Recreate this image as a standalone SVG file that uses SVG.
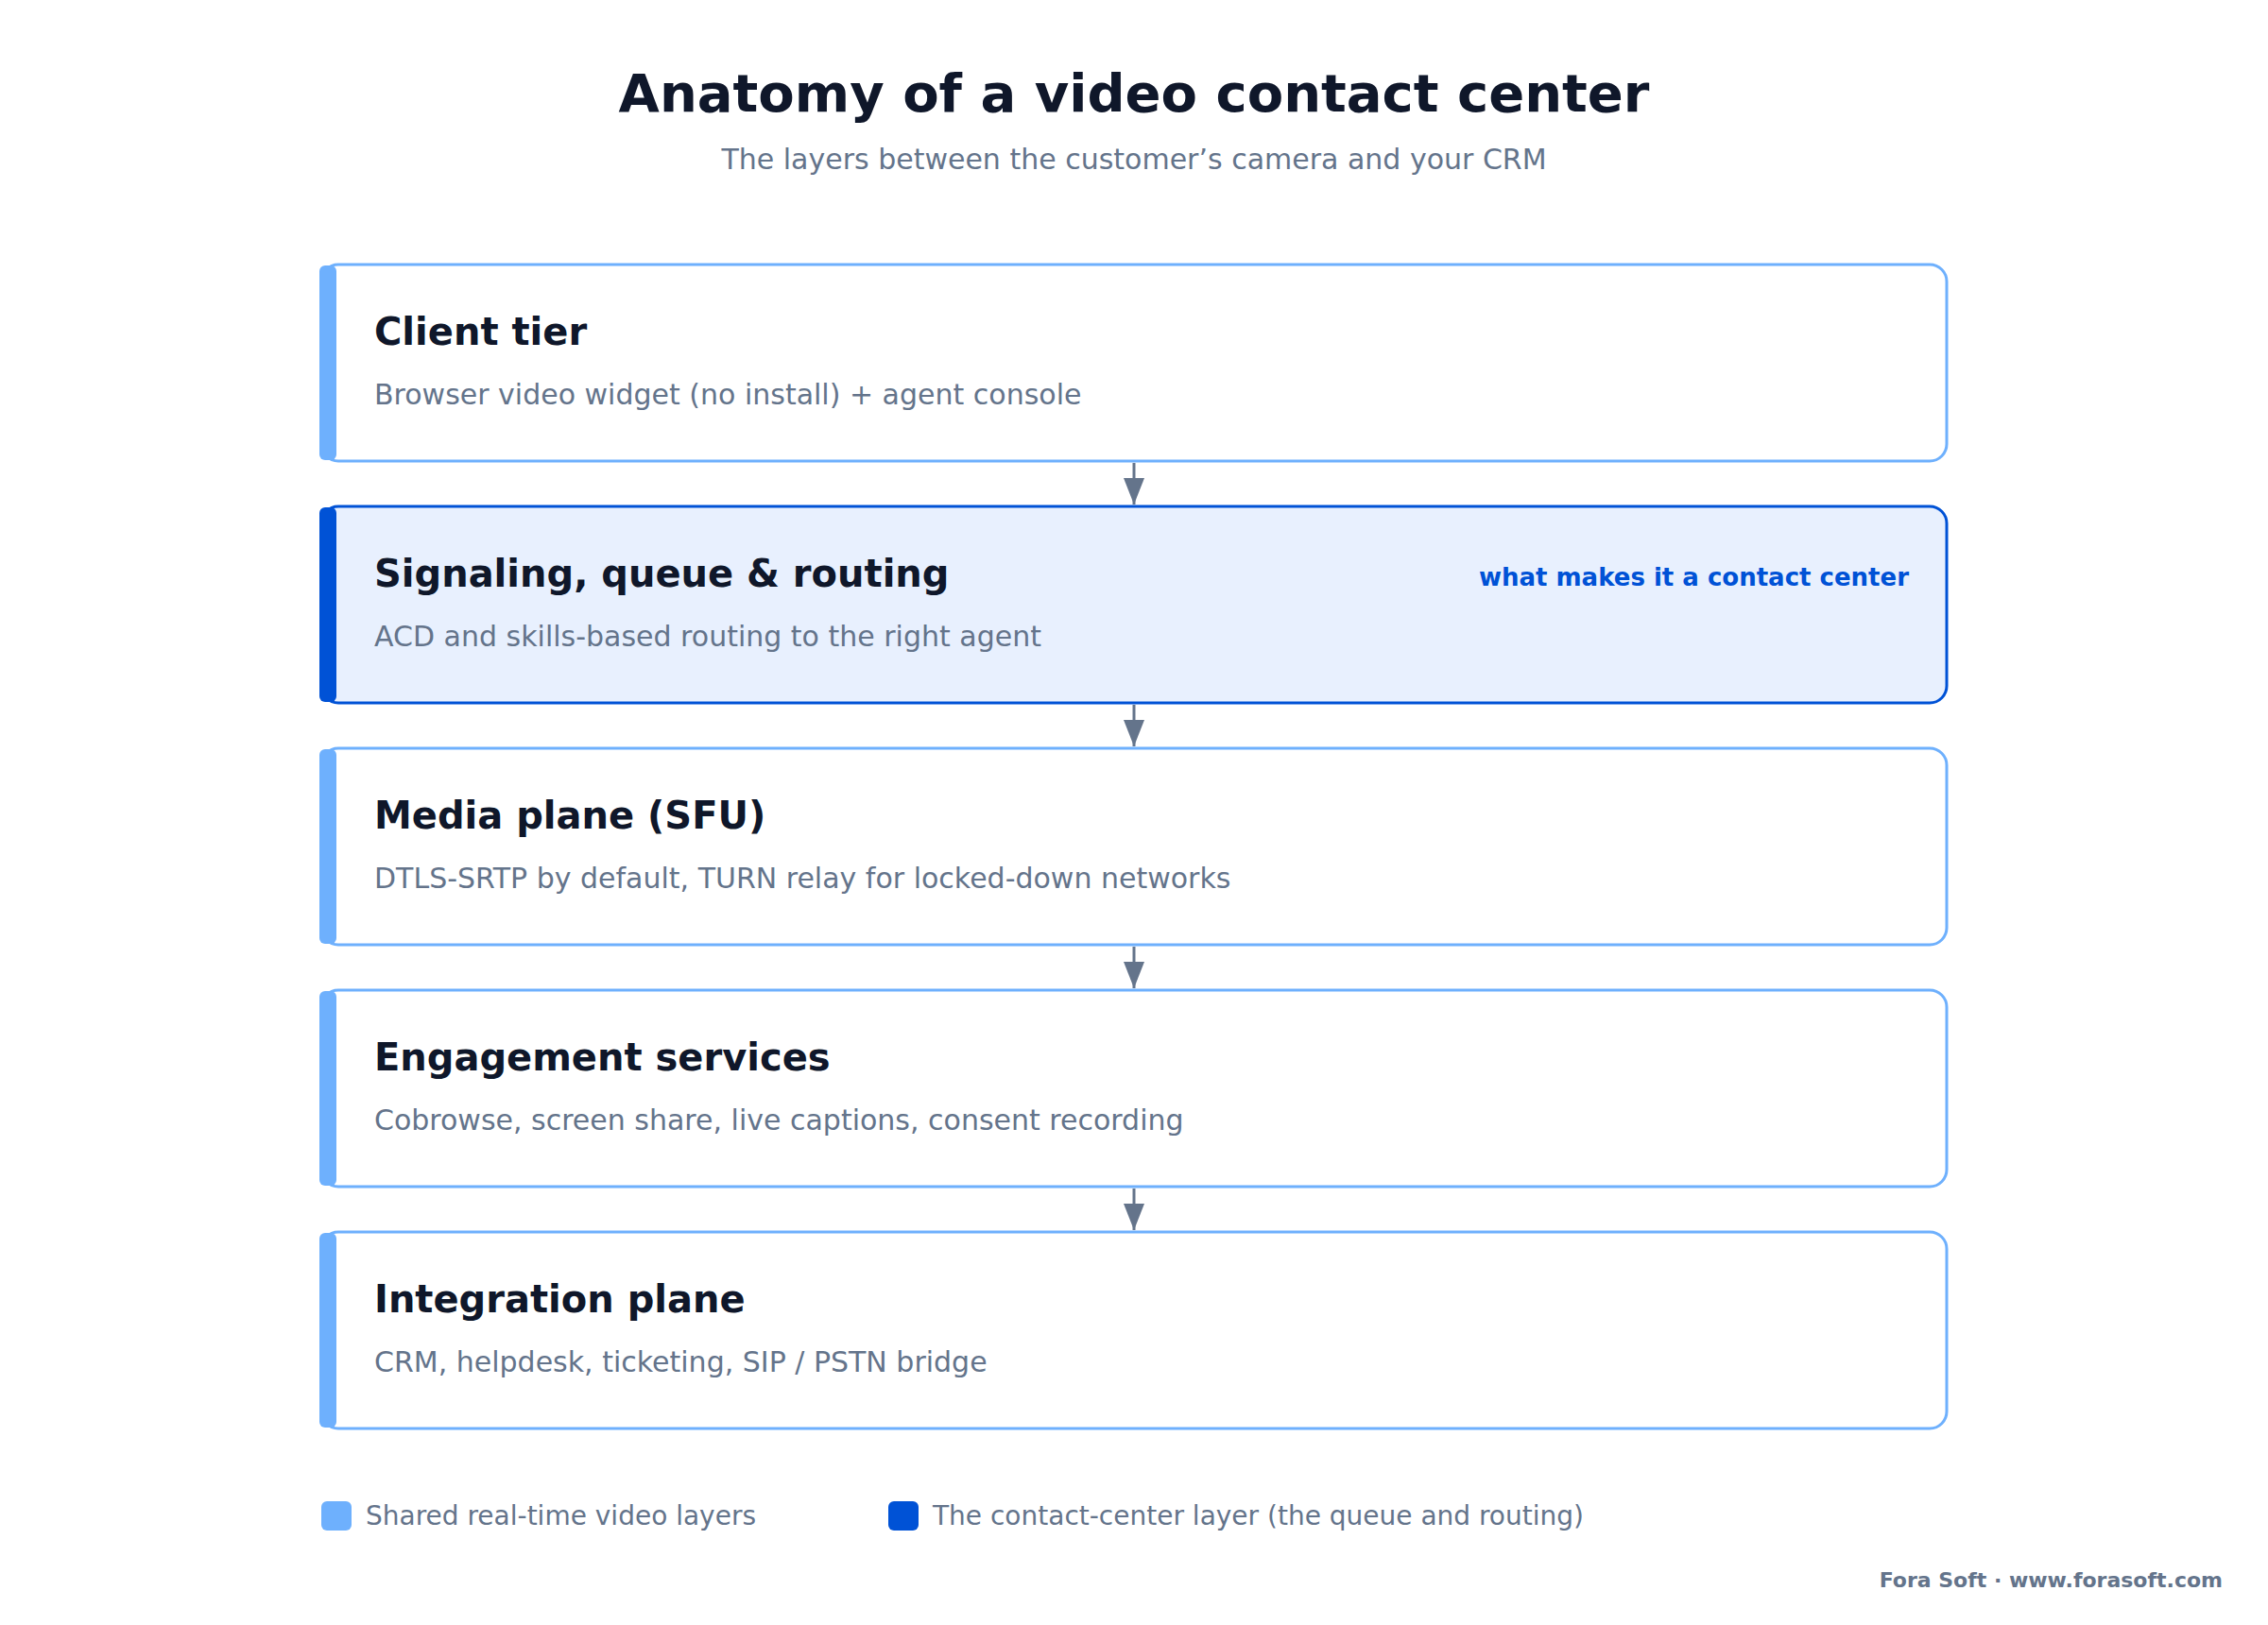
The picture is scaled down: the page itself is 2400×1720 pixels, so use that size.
<svg xmlns="http://www.w3.org/2000/svg" width="2400" height="1720" viewBox="0 0 2400 1720">
<defs>
<style>
text{font-family:"DejaVu Sans","Noto Sans",sans-serif}
.title{font-size:56px;font-weight:bold;fill:#0f172a}
.sub{font-size:30px;fill:#64748b}
.hd{font-size:40px;font-weight:bold;fill:#0f172a}
.ds{font-size:30px;fill:#64748b}
.box{fill:#ffffff;stroke:#6eb0fd;stroke-width:3}
.bar{fill:#6eb0fd}
.boxH{fill:#e8f0fe;stroke:#0052d6;stroke-width:3}
.barH{fill:#0052d6}
.tag{font-size:26px;font-weight:bold;fill:#0052d6}
.conn{stroke:#64748b;stroke-width:3;fill:none}
.leg{font-size:28px;fill:#64748b}
.foot{font-size:22px;font-weight:bold;fill:#64748b}
</style>
<marker id="ah" markerUnits="userSpaceOnUse" viewBox="0 0 28 22" refX="28" refY="11" markerWidth="28" markerHeight="22" orient="auto">
<path d="M0,0 L28,11 L0,22 z" fill="#64748b"/>
</marker>
</defs>
<rect width="2400" height="1720" fill="#ffffff"/>
<text class="title" x="1200" y="118" text-anchor="middle">Anatomy of a video contact center</text>
<text class="sub" x="1200" y="179" text-anchor="middle">The layers between the customer’s camera and your CRM</text>

<g id="node-client">
<rect class="box" x="340" y="280" width="1720" height="208" rx="18"/>
<rect class="bar" x="338" y="281" width="18" height="206" rx="6"/>
<text class="hd" x="396" y="365">Client tier</text>
<text class="ds" x="396" y="428">Browser video widget (no install) + agent console</text>
</g>
<g id="node-signaling">
<rect class="boxH" x="340" y="536" width="1720" height="208" rx="18"/>
<rect class="barH" x="338" y="537" width="18" height="206" rx="6"/>
<text class="hd" x="396" y="621">Signaling, queue &amp; routing</text>
<text class="ds" x="396" y="684">ACD and skills-based routing to the right agent</text>
<text class="tag" x="2020" y="620" text-anchor="end">what makes it a contact center</text>
</g>
<g id="node-media">
<rect class="box" x="340" y="792" width="1720" height="208" rx="18"/>
<rect class="bar" x="338" y="793" width="18" height="206" rx="6"/>
<text class="hd" x="396" y="877">Media plane (SFU)</text>
<text class="ds" x="396" y="940">DTLS-SRTP by default, TURN relay for locked-down networks</text>
</g>
<g id="node-engagement">
<rect class="box" x="340" y="1048" width="1720" height="208" rx="18"/>
<rect class="bar" x="338" y="1049" width="18" height="206" rx="6"/>
<text class="hd" x="396" y="1133">Engagement services</text>
<text class="ds" x="396" y="1196">Cobrowse, screen share, live captions, consent recording</text>
</g>
<g id="node-integration">
<rect class="box" x="340" y="1304" width="1720" height="208" rx="18"/>
<rect class="bar" x="338" y="1305" width="18" height="206" rx="6"/>
<text class="hd" x="396" y="1389">Integration plane</text>
<text class="ds" x="396" y="1452">CRM, helpdesk, ticketing, SIP / PSTN bridge</text>
</g>

<g id="connectors">
<line class="conn" x1="1200" y1="490" x2="1200" y2="534" marker-end="url(#ah)"/>
<line class="conn" x1="1200" y1="746" x2="1200" y2="790" marker-end="url(#ah)"/>
<line class="conn" x1="1200" y1="1002" x2="1200" y2="1046" marker-end="url(#ah)"/>
<line class="conn" x1="1200" y1="1258" x2="1200" y2="1302" marker-end="url(#ah)"/>
</g>

<g id="legend">
<rect x="340" y="1589" width="32" height="31" rx="6" fill="#6eb0fd"/>
<text class="leg" x="387" y="1614">Shared real-time video layers</text>
<rect x="940" y="1589" width="32" height="31" rx="6" fill="#0052d6"/>
<text class="leg" x="987" y="1614">The contact-center layer (the queue and routing)</text>
</g>
<text class="foot" x="2352" y="1680" text-anchor="end">Fora Soft · www.forasoft.com</text>
</svg>
